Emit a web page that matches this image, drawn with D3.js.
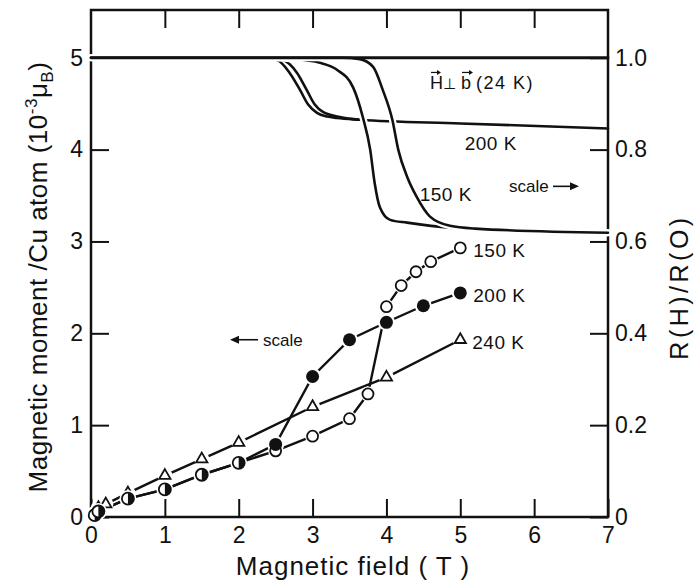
<!DOCTYPE html>
<html lang="en">
  <head>
    <meta charset="utf-8" />
    <title>magnetoresistance</title>
    <script type="text/javascript" src="https://d3js.org/d3.v7.min.js"></script>
    <style>
      body { margin: 0; background: #fff; }
      text { font-family: "Liberation Sans", Arial, sans-serif; fill: #111; }
    </style>
  </head>
  <body>
    <div id="graph"></div>

    <script type="text/javascript">
      /********************************
       * data
       ********************************/

      const fieldTicks = [0, 1, 2, 3, 4, 5, 6, 7];
      const topTicks = [1, 2, 3, 4, 5, 6];
      const momentTicks = [0, 1, 2, 3, 4, 5];
      const ratioTicks = [0, 0.2, 0.4, 0.6, 0.8, 1.0];
      const ratioTickLabels = ["0", "0.2", "0.4", "0.6", "0.8", "1.0"];

      // magnetic moment (10^-3 muB / Cu atom), left scale
      const field150 = [0.05, 0.1, 0.5, 1, 1.5, 2, 2.5, 3, 3.5, 3.75, 4, 4.2, 4.4, 4.6, 5];
      const moment150 = [0.02, 0.06, 0.2, 0.3, 0.46, 0.59, 0.72, 0.88, 1.07, 1.34, 2.29, 2.52, 2.67, 2.78, 2.93];

      const field200 = [0.05, 0.1, 0.5, 1, 1.5, 2, 2.5, 3, 3.5, 4, 4.5, 5];
      const moment200 = [0.02, 0.06, 0.2, 0.3, 0.46, 0.59, 0.79, 1.53, 1.93, 2.12, 2.3, 2.44];

      const field240 = [0.05, 0.1, 0.2, 0.5, 1, 1.5, 2, 3, 4, 5];
      const moment240 = [0.04, 0.1, 0.14, 0.26, 0.45, 0.63, 0.81, 1.2, 1.52, 1.93];

      // R(H)/R(0), right scale
      const fieldPerp = [0, 7];
      const ratioPerp = [1, 1];

      const field200a = [0, 2.3, 2.52, 2.69, 2.83, 2.94, 3.06, 3.2, 3.33, 3.64, 5, 7];
      const ratio200a = [1, 1, 0.995, 0.967, 0.93, 0.898, 0.88, 0.872, 0.869, 0.865, 0.857, 0.846];
      const field200b = [0, 2.4, 2.6, 2.79, 2.92, 3.03, 3.14, 3.37, 3.64];
      const ratio200b = [1, 1, 0.995, 0.967, 0.93, 0.898, 0.882, 0.871, 0.865];

      const field150a = [0, 2.5, 2.69, 3.1, 3.33, 3.55, 3.68, 3.78, 3.84, 3.91, 4.05, 4.28, 4.86, 5.2, 7];
      const ratio150a = [1, 1, 0.998, 0.989, 0.974, 0.935, 0.871, 0.8, 0.728, 0.675, 0.647, 0.641, 0.63, 0.628, 0.619];
      const field150b = [0, 3.4, 3.64, 3.82, 3.95, 4.08, 4.16, 4.28, 4.41, 4.59, 4.86, 5.2, 7];
      const ratio150b = [1, 1, 0.997, 0.98, 0.93, 0.865, 0.8, 0.741, 0.697, 0.654, 0.634, 0.628, 0.619];

      const zip = (a, b) => a.map((v, i) => [v, b[i]]);

      /***************************
       * svg + scales
       **************************/

      const width = 694;
      const height = 582;
      const margin = { top: 10, right: 86, bottom: 65, left: 91 };

      const svg = d3
        .select("div#graph")
        .append("svg")
        .attr("width", width)
        .attr("height", height);

      const xScale = d3
        .scaleLinear()
        .domain([0, 7])
        .range([margin.left, width - margin.right]);

      const yMoment = d3
        .scaleLinear()
        .domain([0, 5.52])
        .range([height - margin.bottom, margin.top]);

      // right axis is the left one divided by 5
      const yRatio = d3
        .scaleLinear()
        .domain([0, 5.52 / 5])
        .range([height - margin.bottom, margin.top]);

      /*********************************
       * axes (ticks pointing inward)
       *******************************/
      const tickLen = -18;

      function styleAxis(g) {
        g.select(".domain").remove();
        g.selectAll(".tick line").attr("stroke", "#111").attr("stroke-width", 2);
        g.selectAll(".tick text").style("font-size", "23px").attr("fill", "#111");
      }

      svg
        .append("g")
        .attr("transform", `translate(0,${height - margin.bottom})`)
        .call(d3.axisBottom(xScale).tickValues(fieldTicks).tickFormat(d3.format("d"))
          .tickSizeInner(tickLen).tickSizeOuter(0).tickPadding(10))
        .call(styleAxis);

      svg
        .append("g")
        .attr("transform", `translate(0,${margin.top})`)
        .call(d3.axisTop(xScale).tickValues(topTicks).tickFormat(() => "")
          .tickSizeInner(tickLen).tickSizeOuter(0))
        .call(styleAxis);

      svg
        .append("g")
        .attr("transform", `translate(${margin.left},0)`)
        .call(d3.axisLeft(yMoment).tickValues(momentTicks).tickFormat(d3.format("d"))
          .tickSizeInner(tickLen).tickSizeOuter(0).tickPadding(8))
        .call(styleAxis);

      svg
        .append("g")
        .attr("transform", `translate(${width - margin.right},0)`)
        .call(d3.axisRight(yRatio).tickValues(ratioTicks).tickFormat((d, i) => ratioTickLabels[i])
          .tickSizeInner(tickLen).tickSizeOuter(0).tickPadding(7))
        .call(styleAxis);

      // frame
      svg
        .append("rect")
        .attr("x", margin.left)
        .attr("y", margin.top)
        .attr("width", width - margin.left - margin.right)
        .attr("height", height - margin.top - margin.bottom)
        .attr("fill", "none")
        .attr("stroke", "#111")
        .attr("stroke-width", 2.5);

      // axis labels
      svg
        .append("text")
        .attr("x", 353)
        .attr("y", 575)
        .attr("text-anchor", "middle")
        .style("font-size", "26px")
        .style("letter-spacing", "1px")
        .text("Magnetic field ( T )");

      const yLabel = svg
        .append("text")
        .attr("transform", "translate(47,277) rotate(-90)")
        .attr("text-anchor", "middle")
        .style("font-size", "26px")
        .style("letter-spacing", "0.5px");
      yLabel.append("tspan").text("Magnetic moment /Cu atom (10");
      yLabel.append("tspan").attr("dy", -10).style("font-size", "17px").text("-3");
      yLabel.append("tspan").attr("dy", 10).text("\u03bc");
      yLabel.append("tspan").attr("dy", 6).style("font-size", "17px").text("B");
      yLabel.append("tspan").attr("dy", -6).text(")");

      svg
        .append("text")
        .attr("transform", "translate(688,287) rotate(-90)")
        .attr("text-anchor", "middle")
        .style("font-size", "25px")
        .style("letter-spacing", "3.5px")
        .text("R(H)/R(O)");

      /*******************************
       * resistance curves (right scale)
       *******************************/
      const ratioLine = d3
        .line()
        .curve(d3.curveMonotoneX)
        .x((d) => xScale(d[0]))
        .y((d) => yRatio(d[1]));

      const curves = svg.append("g").attr("fill", "none").attr("stroke-linecap", "round");

      [zip(field200a, ratio200a), zip(field200b, ratio200b)].forEach((c) => {
        curves.append("path").attr("d", ratioLine(c)).attr("stroke", "#111").attr("stroke-width", 2.6);
      });

      [zip(field150a, ratio150a), zip(field150b, ratio150b)].forEach((c) => {
        curves.append("path").attr("d", ratioLine(c)).attr("stroke", "#fff").attr("stroke-width", 7);
        curves.append("path").attr("d", ratioLine(c)).attr("stroke", "#111").attr("stroke-width", 2.6);
      });

      curves
        .append("path")
        .attr("d", ratioLine(zip(fieldPerp, ratioPerp)))
        .attr("stroke", "#111")
        .attr("stroke-width", 2.8);

      /*******************************
       * magnetic moment points (left scale)
       *******************************/
      const momentLine = d3
        .line()
        .x((d) => xScale(d[0]))
        .y((d) => yMoment(d[1]));

      const pts150 = zip(field150, moment150);
      const pts200 = zip(field200, moment200);
      const pts240 = zip(field240, moment240);

      const lines = svg.append("g").attr("fill", "none").attr("stroke", "#111").attr("stroke-width", 2.4);
      [pts240, pts200, pts150].forEach((p) => lines.append("path").attr("d", momentLine(p)));

      const marks = svg.append("g");
      const pos = (d) => `translate(${xScale(d[0])},${yMoment(d[1])})`;

      // white halo to leave a small gap between lines and symbols
      function halo(p, r) {
        marks
          .selectAll(null)
          .data(p)
          .enter()
          .append("circle")
          .attr("transform", pos)
          .attr("r", r)
          .attr("fill", "#fff");
      }

      halo(pts240, 7.5);
      marks
        .selectAll(null)
        .data(pts240)
        .enter()
        .append("path")
        .attr("transform", pos)
        .attr("d", d3.symbol(d3.symbolTriangle, 55))
        .attr("fill", "#fff")
        .attr("stroke", "#111")
        .attr("stroke-width", 1.8);

      halo(pts150, 7.5);
      halo(pts200, 8.5);

      // points where 150 K and 200 K coincide are drawn half filled
      const inBoth = (d) =>
        field150.some((f, i) => f === d[0] && moment150[i] === d[1]) &&
        field200.some((f, i) => f === d[0] && moment200[i] === d[1]);

      marks
        .selectAll(null)
        .data(pts150.filter((d) => !inBoth(d)))
        .enter()
        .append("circle")
        .attr("transform", pos)
        .attr("r", 5.5)
        .attr("fill", "#fff")
        .attr("stroke", "#111")
        .attr("stroke-width", 1.8);

      marks
        .selectAll(null)
        .data(pts200.filter((d) => !inBoth(d)))
        .enter()
        .append("circle")
        .attr("transform", pos)
        .attr("r", 6.5)
        .attr("fill", "#111");

      const half = marks
        .selectAll(null)
        .data(pts200.filter(inBoth))
        .enter()
        .append("g")
        .attr("transform", pos);
      half.append("circle").attr("r", 6).attr("fill", "#fff").attr("stroke", "#111").attr("stroke-width", 1.8);
      half.append("path").attr("d", "M0,-6A6,6 0 0 1 0,6Z").attr("fill", "#111");

      /*******************************
       * annotations
       *******************************/
      const lab = svg.append("g").style("font-size", "19px").style("letter-spacing", "0.5px");
      const last = (a) => a[a.length - 1];

      lab.append("text").attr("x", xScale(5) + 13).attr("y", yMoment(last(moment150)) + 9).text("150 K");
      lab.append("text").attr("x", xScale(5) + 13).attr("y", yMoment(last(moment200)) + 9).text("200 K");
      lab.append("text").attr("x", xScale(5) + 12).attr("y", yMoment(last(moment240)) + 9).text("240 K");

      lab.append("text").attr("x", xScale(5.06)).attr("y", yRatio(0.8)).text("200 K");
      lab.append("text").attr("x", xScale(4.45)).attr("y", yRatio(0.688)).text("150 K");

      // H perp b (24 K)
      const perp = svg.append("g").style("font-size", "18px");
      const py = yRatio(0.931);
      perp.append("text").attr("x", 430).attr("y", py).text("H");
      perp.append("text").attr("x", 443).attr("y", py).style("font-family", "DejaVu Sans").style("font-size", "15px").text("\u22a5");
      perp.append("text").attr("x", 461).attr("y", py).text("b");
      perp.append("text").attr("x", 476).attr("y", py).style("letter-spacing", "1.5px").text("(24 K)");
      [[431, 441], [462, 473]].forEach(([a, b]) => {
        perp.append("line").attr("x1", a).attr("x2", b - 2).attr("y1", py - 17).attr("y2", py - 17)
          .attr("stroke", "#111").attr("stroke-width", 1.2);
        perp.append("path").attr("d", `M${b},${py - 17}l-4,-2.5v5z`).attr("fill", "#111");
      });

      // scale arrows
      const sc = svg.append("g").style("font-size", "17px");
      const sy1 = yRatio(0.72);
      sc.append("text").attr("x", 509).attr("y", sy1 + 6).text("scale");
      sc.append("line").attr("x1", 553).attr("x2", 572).attr("y1", sy1).attr("y2", sy1).attr("stroke", "#111").attr("stroke-width", 1.6);
      sc.append("path").attr("d", `M579,${sy1}l-9,-4v8z`).attr("fill", "#111");

      const sy2 = yMoment(1.93);
      sc.append("text").attr("x", 263).attr("y", sy2 + 6).text("scale");
      sc.append("line").attr("x1", 238).attr("x2", 258).attr("y1", sy2).attr("y2", sy2).attr("stroke", "#111").attr("stroke-width", 1.6);
      sc.append("path").attr("d", `M230,${sy2}l9,-4v8z`).attr("fill", "#111");
    </script>
  </body>
</html>
